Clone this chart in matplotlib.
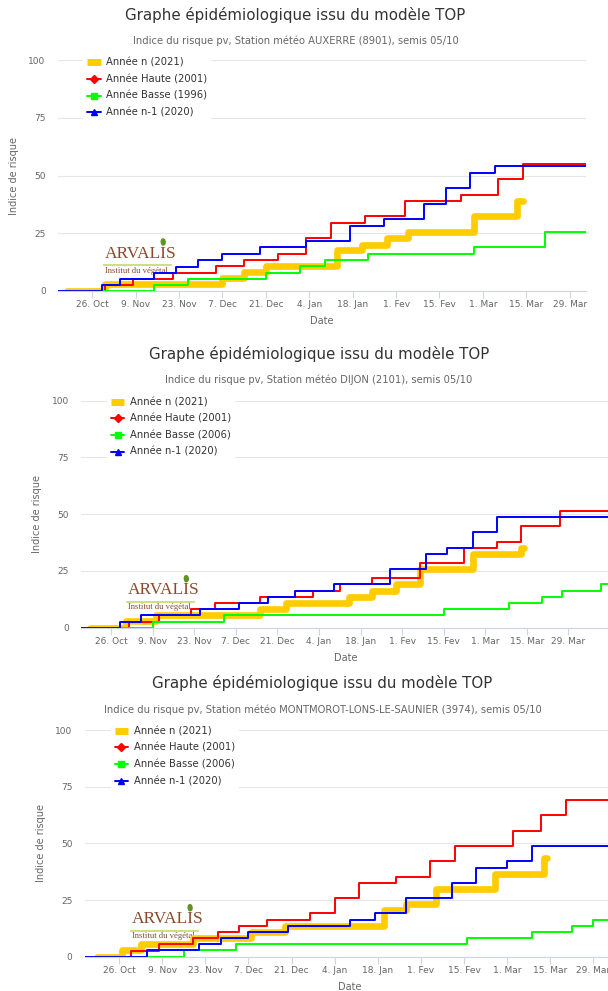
import matplotlib
matplotlib.use("Agg")
import matplotlib.pyplot as plt
import pandas as pd
from matplotlib.lines import Line2D
from matplotlib.patches import Ellipse

W, H = 608, 991

# x axis ticks (same for the three charts)
tick_dates = ["2020-10-26", "2020-11-09", "2020-11-23", "2020-12-07", "2020-12-21",
              "2021-01-04", "2021-01-18", "2021-02-01", "2021-02-15", "2021-03-01",
              "2021-03-15", "2021-03-29"]
tick_labels = ["26. Oct", "9. Nov", "23. Nov", "7. Dec", "21. Dec", "4. Jan", "18. Jan",
               "1. Fev", "15. Fev", "1. Mar", "15. Mar", "29. Mar"]
y_ticks = [0, 25, 50, 75, 100]

title = "Graphe épidémiologique issu du modèle TOP"

# --- AUXERRE (8901)
aux_n_dates = ["2020-10-18", "2020-10-30", "2020-12-07", "2020-12-14", "2020-12-21", "2021-01-13",
               "2021-01-21", "2021-01-29", "2021-02-05", "2021-02-26", "2021-03-12", "2021-03-14"]
aux_n_vals = [0, 3.0, 5.7, 8.2, 10.7, 17.6, 20.0, 22.8, 25.7, 32.4, 39.0, 39.0]
aux_haute_dates = ["2020-10-15", "2020-10-30", "2020-11-08", "2020-11-21", "2020-12-05", "2020-12-14",
                   "2020-12-25", "2021-01-03", "2021-01-11", "2021-01-22", "2021-02-04", "2021-02-22",
                   "2021-03-06", "2021-03-14", "2021-04-04"]
aux_haute_vals = [0, 2.6, 5.3, 7.9, 10.7, 13.4, 16.1, 22.8, 29.6, 32.5, 39.0, 41.8, 48.4, 55.2, 55.2]
aux_basse_dates = ["2020-10-15", "2020-11-15", "2020-11-26", "2020-12-21", "2021-01-01", "2021-01-09",
                   "2021-01-23", "2021-02-26", "2021-03-21", "2021-04-04"]
aux_basse_vals = [0, 2.6, 5.3, 7.9, 10.7, 13.4, 16.1, 18.9, 25.7, 25.7]
aux_prev_dates = ["2020-10-15", "2020-10-29", "2020-11-04", "2020-11-15", "2020-11-22", "2020-11-29",
                  "2020-12-07", "2020-12-19", "2021-01-03", "2021-01-17", "2021-01-28", "2021-02-10",
                  "2021-02-17", "2021-02-25", "2021-03-05", "2021-04-04"]
aux_prev_vals = [0, 2.6, 5.3, 7.8, 10.6, 13.4, 16.1, 18.9, 21.8, 28.3, 31.0, 37.9, 44.5, 51.2, 54.1, 54.1]

# --- DIJON (2101)
dij_n_dates = ["2020-10-19", "2020-10-31", "2020-11-10", "2020-12-15", "2020-12-24", "2021-01-14",
               "2021-01-22", "2021-01-30", "2021-02-07", "2021-02-25", "2021-03-13", "2021-03-14"]
dij_n_vals = [0, 2.9, 5.5, 8.1, 10.7, 13.4, 16.2, 19.1, 25.7, 32.5, 35.3, 35.3]
dij_haute_dates = ["2020-10-16", "2020-11-01", "2020-11-11", "2020-11-22", "2020-11-30", "2020-12-15",
                   "2021-01-02", "2021-01-11", "2021-01-22", "2021-02-07", "2021-02-22", "2021-03-05",
                   "2021-03-13", "2021-03-26", "2021-04-13"]
dij_haute_vals = [0, 2.7, 5.4, 8.1, 10.7, 13.4, 16.2, 19.1, 21.8, 28.6, 35.2, 37.9, 44.7, 51.4, 51.4]
dij_basse_dates = ["2020-10-16", "2020-11-09", "2020-12-03", "2021-02-15", "2021-03-09", "2021-03-20",
                   "2021-03-27", "2021-04-09", "2021-04-13"]
dij_basse_vals = [0, 2.7, 5.4, 8.1, 10.7, 13.6, 16.2, 19.1, 19.1]
dij_prev_dates = ["2020-10-16", "2020-10-29", "2020-11-05", "2020-11-25", "2020-12-08", "2020-12-18",
                  "2020-12-27", "2021-01-09", "2021-01-28", "2021-02-09", "2021-02-16", "2021-02-25",
                  "2021-03-05", "2021-04-13"]
dij_prev_vals = [0, 2.7, 5.4, 8.1, 10.7, 13.4, 16.2, 19.1, 25.7, 32.4, 35.0, 42.0, 48.8, 48.8]

# --- MONTMOROT-LONS-LE-SAUNIER (3974)
mon_n_dates = ["2020-10-19", "2020-10-27", "2020-11-02", "2020-11-19", "2020-12-08", "2020-12-19",
               "2021-01-20", "2021-01-27", "2021-02-06", "2021-02-25", "2021-03-13", "2021-03-14"]
mon_n_vals = [0, 3.0, 5.5, 8.1, 11.0, 13.5, 20.4, 23.2, 29.8, 36.7, 43.4, 43.4]
mon_haute_dates = ["2020-10-15", "2020-10-30", "2020-11-08", "2020-11-19", "2020-11-27", "2020-12-04",
                   "2020-12-13", "2020-12-27", "2021-01-04", "2021-01-12", "2021-01-24", "2021-02-04",
                   "2021-02-12", "2021-03-03", "2021-03-12", "2021-03-20", "2021-04-06"]
mon_haute_vals = [0, 2.7, 5.4, 8.1, 10.9, 13.6, 16.3, 19.1, 26.0, 32.6, 35.3, 42.2, 48.8, 55.6,
                  62.5, 69.1, 69.1]
mon_basse_dates = ["2020-10-15", "2020-11-16", "2020-12-03", "2021-02-16", "2021-03-09", "2021-03-22",
                   "2021-03-29", "2021-04-06"]
mon_basse_vals = [0, 2.8, 5.5, 8.1, 10.8, 13.5, 16.2, 16.2]
mon_prev_dates = ["2020-10-15", "2020-11-04", "2020-11-21", "2020-11-28", "2020-12-07", "2020-12-20",
                  "2021-01-09", "2021-01-17", "2021-01-27", "2021-02-11", "2021-02-19", "2021-03-01",
                  "2021-03-09", "2021-04-06"]
mon_prev_vals = [0, 2.8, 5.5, 8.1, 10.9, 13.7, 16.3, 19.1, 25.8, 32.5, 39.3, 42.2, 48.9, 48.9]

colors = ["#ffcc00", "#ff0000", "#00ff00", "#0000ff"]
widths = [4.8, 1.4, 1.4, 1.4]
markers = [None, "D", "s", "^"]
msizes = [0, 4, 4.5, 5]


def fx(px):
    return px / W


def fy(py):
    return 1 - py / H


fig = plt.figure(figsize=(W / 100, H / 100), dpi=100)
fig.patch.set_facecolor("white")


def draw_logo(ax, left, bottom):
    # ARVALIS logo sitting in the lower left of each plot area
    kw = dict(transform=fig.transFigure, color="#8b4a2b", family="Liberation Serif", zorder=1)
    ax.text(fx(left + 47), fy(bottom - 37.5), "ARVALIS", fontsize=12.5, ha="left", va="center", **kw)
    ax.text(fx(left + 47), fy(bottom - 20.5), "Institut du végétal", fontsize=6.2, ha="left", va="center", **kw)
    ax.add_line(Line2D([fx(left + 46), fx(left + 113)], [fy(bottom - 26), fy(bottom - 26)],
                       transform=fig.transFigure, color="#c9dc74", lw=1.3, zorder=1))
    ax.add_patch(Ellipse((fx(left + 105), fy(bottom - 49)), 4 / W, 6 / H, angle=-30,
                         transform=fig.transFigure, color="#5f9424", zorder=1))


def draw_chart(box, xlim, title_y, center, subtitle, series, labels, legend_xy, ylabel_x):
    left, top, right, bottom = box
    ax = fig.add_axes([fx(left), fy(bottom), (right - left) / W, (bottom - top) / H])

    for (d, v), c, lw in zip(series, colors, widths):
        ax.plot(pd.to_datetime(d), v, color=c, lw=lw, drawstyle="steps-post",
                solid_capstyle="round", solid_joinstyle="round", zorder=2)

    ax.set_xlim(pd.Timestamp(xlim[0]), pd.Timestamp(xlim[1]))
    ax.set_ylim(0, 100)
    ax.set_xticks(pd.to_datetime(tick_dates))
    ax.set_xticklabels(tick_labels)
    ax.set_yticks(y_ticks)
    ax.grid(axis="y", color="#e6e6e6", lw=0.8)
    ax.set_axisbelow(True)
    for s in ["top", "left", "right"]:
        ax.spines[s].set_visible(False)
    ax.spines["bottom"].set_color("#ccd6eb")
    ax.spines["bottom"].set_linewidth(0.8)
    ax.tick_params(axis="x", colors="#ccd6eb", length=5, width=0.8, pad=1.5,
                   labelsize=6.5, labelcolor="#666666")
    ax.tick_params(axis="y", length=0, pad=9, labelsize=6.5, labelcolor="#666666")

    draw_logo(ax, left, bottom)

    handles = [Line2D([], [], color=c, lw=lw if i else 5, marker=m, markersize=ms,
                      solid_capstyle="round" if i else "butt")
               for i, (c, lw, m, ms) in enumerate(zip(colors, widths, markers, msizes))]
    leg = ax.legend(handles, labels, loc="upper left", bbox_to_anchor=(fx(legend_xy[0]), fy(legend_xy[1])),
                    bbox_transform=fig.transFigure, frameon=True, facecolor="white", edgecolor="none",
                    framealpha=1, fontsize=7.2, handlelength=1.35, handletextpad=0.55,
                    labelspacing=0.66, borderpad=0.4, borderaxespad=0)
    for t in leg.get_texts():
        t.set_color("#333333")

    fig.text(fx(center), fy(title_y), title, ha="center", va="center", fontsize=10.8, color="#333333")
    fig.text(fx(center), fy(title_y + 26), subtitle, ha="center", va="center", fontsize=7.2, color="#666666")
    fig.text(fx(ylabel_x), fy((top + bottom) / 2), "Indice de risque", rotation=90,
             ha="center", va="center", fontsize=7, color="#666666")
    fig.text(fx((left + right) / 2), fy(bottom + 30.5), "Date", ha="center", va="center",
             fontsize=7, color="#666666")
    return ax


draw_chart((58.2, 60.2, 586.1, 291.0), ("2020-10-15", "2021-04-03 07:00"), 14.7, 295.5,
           "Indice du risque pv, Station météo AUXERRE (8901), semis 05/10",
           [(aux_n_dates, aux_n_vals), (aux_haute_dates, aux_haute_vals),
            (aux_basse_dates, aux_basse_vals), (aux_prev_dates, aux_prev_vals)],
           ["Année n (2021)", "Année Haute (2001)", "Année Basse (1996)", "Année n-1 (2020)"],
           (83.3, 53.8), 13.6)

draw_chart((81.3, 400.7, 611.0, 627.7), ("2020-10-16", "2021-04-12 08:00"), 354.0, 319.0,
           "Indice du risque pv, Station météo DIJON (2101), semis 05/10",
           [(dij_n_dates, dij_n_vals), (dij_haute_dates, dij_haute_vals),
            (dij_basse_dates, dij_basse_vals), (dij_prev_dates, dij_prev_vals)],
           ["Année n (2021)", "Année Haute (2001)", "Année Basse (2006)", "Année n-1 (2020)"],
           (106.8, 393.2), 37.0)

draw_chart((85.1, 730.0, 615.0, 956.7), ("2020-10-15", "2021-04-05"), 683.3, 322.5,
           "Indice du risque pv, Station météo MONTMOROT-LONS-LE-SAUNIER (3974), semis 05/10",
           [(mon_n_dates, mon_n_vals), (mon_haute_dates, mon_haute_vals),
            (mon_basse_dates, mon_basse_vals), (mon_prev_dates, mon_prev_vals)],
           ["Année n (2021)", "Année Haute (2001)", "Année Basse (2006)", "Année n-1 (2020)"],
           (110.6, 722.2), 41.0)

fig.savefig("out.png", dpi=100, facecolor="white")
